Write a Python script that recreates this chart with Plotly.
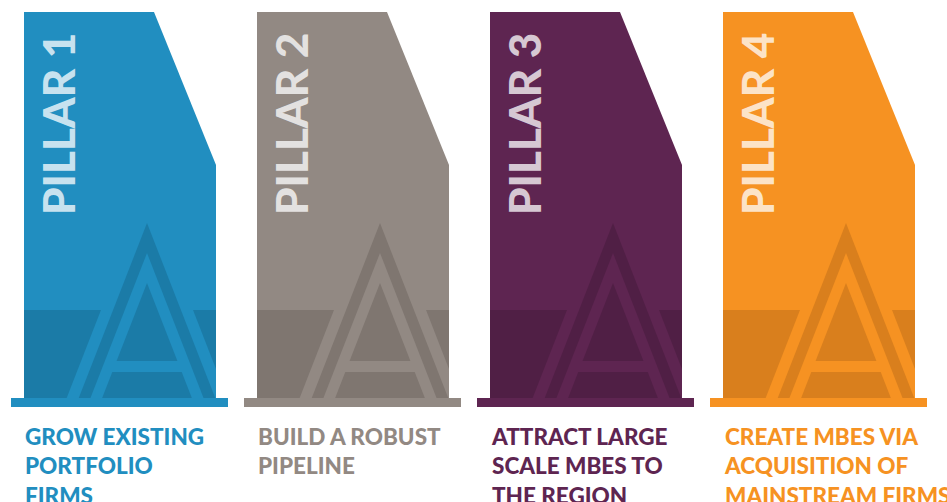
import plotly.graph_objects as go

# ---- content ----
pillar_labels = ["PILLAR 1", "PILLAR 2", "PILLAR 3", "PILLAR 4"]
pillar_titles = [
    "GROW EXISTING<br>PORTFOLIO<br>FIRMS",
    "BUILD A ROBUST<br>PIPELINE",
    "ATTRACT LARGE<br>SCALE MBES TO<br>THE REGION",
    "CREATE MBES VIA<br>ACQUISITION OF<br>MAINSTREAM FIRMS",
]
main_colors = ["#218ec0", "#928983", "#5e2551", "#f69222"]
dark_colors = ["#1b7ba7", "#7f7670", "#501f45", "#d97f1d"]

# ---- layout constants (pixel-like coordinates) ----
W, H = 947, 502
PITCH = 233
LEFT0 = 24
PW = 192          # pillar width
TOP = 12
SLANT_X = 130     # top-right corner offset
SLANT_Y = 165
BAND_Y = 310
BOT = 398
CX = 123          # A centre offset
S = 0.39          # A leg slope (dx/dy)

def poly(pts):
    return "M " + " L ".join(f"{x:.2f},{y:.2f}" for x, y in pts) + " Z"

shapes = []
annotations = []
for i, (lab, title, mc, dc) in enumerate(zip(pillar_labels, pillar_titles, main_colors, dark_colors)):
    x0 = LEFT0 + i * PITCH
    cx = x0 + CX
    xr = x0 + PW
    common = dict(type="path", xref="x", yref="y", line=dict(width=0), layer="above")
    # body
    shapes.append(dict(common, path=poly([(x0, TOP), (x0 + SLANT_X, TOP), (xr, SLANT_Y), (xr, BOT), (x0, BOT)]), fillcolor=mc))
    # dark band
    shapes.append(dict(common, path=poly([(x0, BAND_Y), (xr, BAND_Y), (xr, BOT), (x0, BOT)]), fillcolor=dc))
    # outer light leg (clipped to band and pillar)
    apex_o = 192
    h1 = (BAND_Y - apex_o) * S
    h2 = (BOT - apex_o) * S
    yclip = apex_o + (xr - cx) / S
    shapes.append(dict(common, path=poly([(cx - h1, BAND_Y), (cx + h1, BAND_Y), (xr, yclip), (xr, BOT), (cx - h2, BOT)]), fillcolor=mc))
    # nested triangles
    for apex, col in [(223, dc), (253, mc), (283, dc)]:
        h = (BOT - apex) * S
        shapes.append(dict(common, path=poly([(cx, apex), (cx + h, BOT), (cx - h, BOT)]), fillcolor=col))
    # crossbar
    shapes.append(dict(common, path=poly([(cx - 38, 361), (cx + 38, 361), (cx + 38, 372), (cx - 38, 372)]), fillcolor=mc))
    # base bar
    shapes.append(dict(common, path=poly([(x0 - 13, BOT), (x0 + PW + 12, BOT), (x0 + PW + 12, 407), (x0 - 13, 407)]), fillcolor=mc))

    annotations.append(dict(
        x=x0 + 34, y=124, xref="x", yref="y", text=lab, showarrow=False, textangle=-90,
        xanchor="center", yanchor="middle",
        font=dict(family="Lato", size=44, color="rgba(255,255,255,0.76)", weight=900),
    ))
    annotations.append(dict(
        x=x0 - 1, y=421, xref="x", yref="y", text=title, showarrow=False,
        xanchor="left", yanchor="top", align="left",
        font=dict(family="Lato", size=22.5, color=mc, weight=900),
    ))

fig = go.Figure()
fig.add_trace(go.Scatter(x=[0, W], y=[0, H], mode="markers", marker=dict(opacity=0), hoverinfo="skip", showlegend=False))
fig.update_layout(
    width=W, height=H, margin=dict(l=0, r=0, t=0, b=0),
    paper_bgcolor="white", plot_bgcolor="white",
    xaxis=dict(range=[0, W], visible=False, fixedrange=True),
    yaxis=dict(range=[H, 0], visible=False, fixedrange=True),
    shapes=shapes, annotations=annotations, showlegend=False,
)
fig.write_html("out.html", config={"displayModeBar": False},
               post_script="document.body.style.margin='0';document.body.style.overflow='hidden';")
